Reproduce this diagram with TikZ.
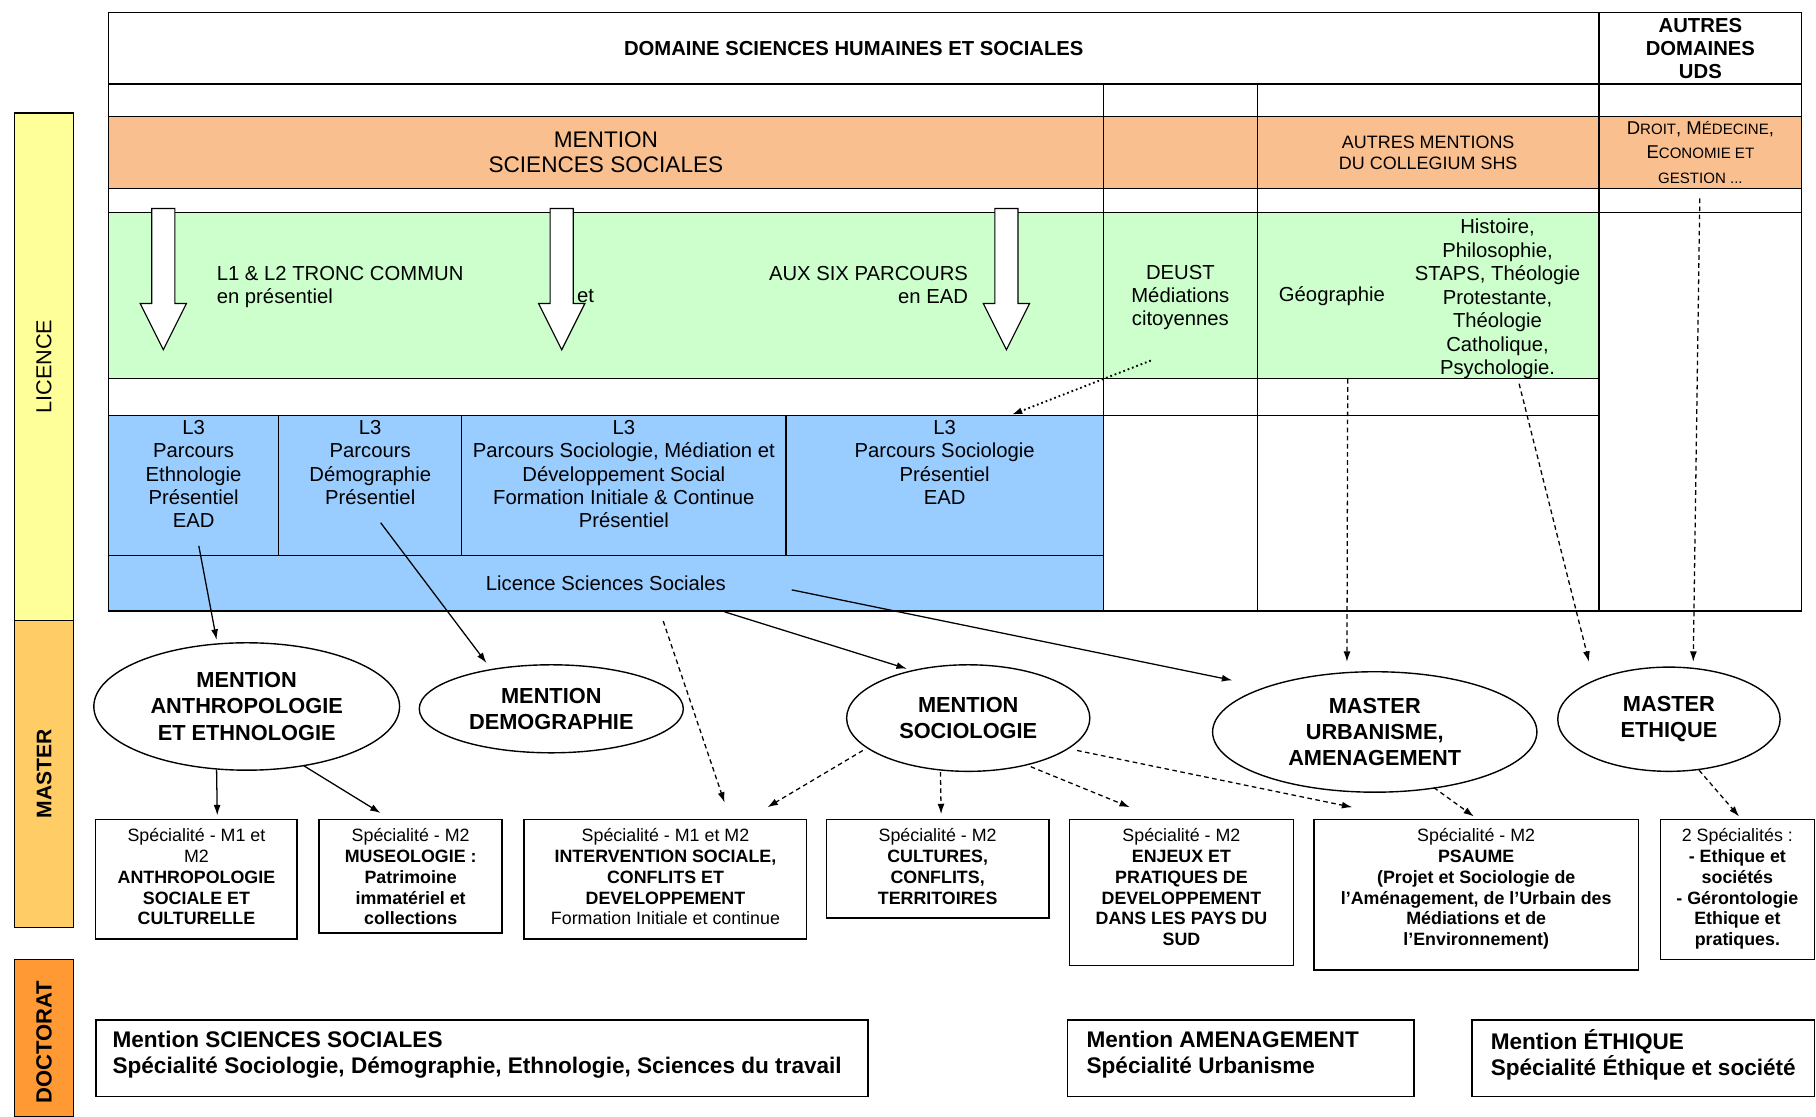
\documentclass[tikz,border=0pt]{standalone}
\usepackage{fontspec}
\setmainfont{Liberation Sans}
\usetikzlibrary{shapes.geometric,arrows.meta}
\newcommand\myfs[2]{\fontsize{#1}{#2}\selectfont}
\newcommand\scs[1]{{\fontsize{13}{21.5}\selectfont #1}}
\definecolor{licY}{RGB}{255,255,153}
\definecolor{masO}{RGB}{255,204,102}
\definecolor{docO}{RGB}{255,153,51}
\definecolor{peach}{RGB}{250,191,143}
\definecolor{lgreen}{RGB}{204,255,204}
\definecolor{lblue}{RGB}{153,204,255}
\begin{document}
\begin{tikzpicture}[x=1pt,y=-1pt,
 cell/.style={draw, line width=1.3pt, inner sep=0pt, anchor=north west, align=center, font=\myfs{17.5}{20}},
 txt/.style={inner sep=0pt, align=center, font=\myfs{17.5}{20}},
 ell/.style={ellipse, draw, line width=1.2pt, inner sep=0pt, align=center, fill=white, font=\myfs{18.8}{22.5}\bfseries},
 specbox/.style={draw, line width=1.2pt, inner sep=0pt, anchor=north west},
 spectxt/.style={inner sep=0pt, align=center, anchor=north, font=\myfs{15.4}{18}},
 docbox/.style={draw, line width=1.4pt, inner sep=0pt, anchor=north west},
 doctxt/.style={inner sep=0pt, align=left, anchor=west, font=\myfs{19.5}{22}\bfseries},
 side/.style={draw, line width=1pt, inner sep=0pt, anchor=north west, minimum width=51pt},
 sarr/.style={-{Latex[length=9pt,width=6pt]}, line width=1.1pt},
 darr/.style={sarr, dash pattern=on 4pt off 3pt},
 dotarr/.style={-{Latex[length=9pt,width=6pt]}, line width=1.6pt, dash pattern=on 1.5pt off 2.5pt},
 pics/barrow/.style={code={\draw[line width=1pt, fill=white] (-10,0) -- (10,0) -- (10,82) -- (20,82) -- (0,122) -- (-20,82) -- (-10,82) -- cycle;}}
]
\fill[white] (0,0) rectangle (1568,964);
\useasboundingbox (0,0) rectangle (1568,964);

% side bars
\node[side, fill=licY, minimum height=438pt] (lic) at (12,97) {};
\node[rotate=90, font=\myfs{18.7}{20}, inner sep=0pt] (licT) at (lic.center) {LICENCE};
\node[side, fill=masO, minimum height=265pt] (mas) at (12,535) {};
\node[rotate=90, font=\myfs{18.2}{20}\bfseries, inner sep=0pt] (masT) at (mas.center) {MASTER};
\node[side, fill=docO, minimum height=136pt] (doc) at (12,828) {};
\node[rotate=90, font=\myfs{19}{20}\bfseries, inner sep=0pt] (docT) at (38,900) {DOCTORAT};

% row A
\node[cell, minimum width=1287pt, minimum height=62pt] (domaine) at (93,10) {\bfseries DOMAINE SCIENCES HUMAINES ET SOCIALES};
\node[cell, minimum width=175pt, minimum height=62pt, font=\myfs{17.5}{20}\bfseries] (autresdom) at (1380,10) {AUTRES\\DOMAINES\\UDS};
% row B
\node[cell, minimum width=859pt, minimum height=28pt] (rowb1) at (93,72) {};
\node[cell, minimum width=133pt, minimum height=28pt] (rowb2) at (952,72) {};
\node[cell, minimum width=295pt, minimum height=28pt] (rowb3) at (1085,72) {};
\node[cell, minimum width=175pt, minimum height=28pt] (rowb4) at (1380,72) {};
% row C
\node[cell, fill=peach, minimum width=859pt, minimum height=62pt, font=\myfs{19.5}{22}] (mention) at (93,100) {MENTION\\SCIENCES SOCIALES};
\node[cell, fill=peach, minimum width=133pt, minimum height=62pt] (orblank) at (952,100) {};
\node[cell, fill=peach, minimum width=295pt, minimum height=62pt, font=\myfs{15.5}{18}] (autresment) at (1085,100) {AUTRES MENTIONS\\DU COLLEGIUM SHS};
\node[cell, fill=peach, minimum width=175pt, minimum height=62pt, font=\myfs{16}{21.5}] (droit) at (1380,100) {D\scs{ROIT}, M\scs{ÉDECINE},\\E\scs{CONOMIE ET}\\\scs{GESTION ...}};
% row D
\node[cell, minimum width=859pt, minimum height=21pt] (rowd1) at (93,162) {};
\node[cell, minimum width=133pt, minimum height=21pt] (rowd2) at (952,162) {};
\node[cell, minimum width=295pt, minimum height=21pt] (rowd3) at (1085,162) {};
\node[cell, minimum width=175pt, minimum height=21pt] (rowd4) at (1380,162) {};
% row E
\node[cell, fill=lgreen, minimum width=859pt, minimum height=143pt] (tronc) at (93,183) {};
\node[cell, fill=lgreen, minimum width=133pt, minimum height=143pt, text depth=-2pt] (deust) at (952,183) {DEUST\\Médiations\\citoyennes};
\node[cell, fill=lgreen, minimum width=295pt, minimum height=143pt] (greenothers) at (1085,183) {};
\node[cell, minimum width=175pt, minimum height=344pt] (rightcol) at (1380,183) {};
% row F
\node[cell, minimum width=859pt, minimum height=32pt] (rowf1) at (93,326) {};
\node[cell, minimum width=133pt, minimum height=32pt] (rowf2) at (952,326) {};
\node[cell, minimum width=295pt, minimum height=32pt] (rowf3) at (1085,326) {};
% row G
\node[cell, fill=lblue, minimum width=147pt, minimum height=121pt] (l3eth) at (93,358) {};
\node[cell, fill=lblue, minimum width=158pt, minimum height=121pt] (l3demo) at (240,358) {};
\node[cell, fill=lblue, minimum width=280pt, minimum height=121pt] (l3smd) at (398,358) {};
\node[cell, fill=lblue, minimum width=274pt, minimum height=121pt] (l3soc) at (678,358) {};
\node[cell, minimum width=133pt, minimum height=169pt] (emptyg2) at (952,358) {};
\node[cell, minimum width=295pt, minimum height=169pt] (emptyg3) at (1085,358) {};
% row H
\node[cell, fill=lblue, minimum width=859pt, minimum height=48pt] (licence) at (93,479) {Licence Sciences Sociales};

% texts in green row
\pic at (141,180) {barrow};
\pic at (485,180) {barrow};
\pic at (869,180) {barrow};
\node[txt, anchor=west, align=left] (troncL) at (187,248) {L1 \& L2 TRONC COMMUN\\en présentiel};
\node[txt, anchor=west] (et) at (498,256) {et};
\node[txt, anchor=east, align=right] (six) at (836,246) {AUX SIX PARCOURS\\en EAD};
\node[txt] (geo) at (1150,256) {Géographie};
\node[txt, font=\myfs{17.5}{20.3}] (hist) at (1293,258) {Histoire,\\Philosophie,\\STAPS, Théologie\\Protestante,\\Théologie\\Catholique,\\Psychologie.};

% L3 texts
\node[txt, anchor=north] (l3ethT) at ([yshift=-5pt]l3eth.north) {L3\\Parcours\\Ethnologie\\Présentiel\\EAD};
\node[txt, anchor=north] (l3demoT) at ([yshift=-5pt]l3demo.north) {L3\\Parcours\\Démographie\\Présentiel};
\node[txt, anchor=north] (l3smdT) at ([yshift=-5pt]l3smd.north) {L3\\Parcours Sociologie, Médiation et\\Développement Social\\Formation Initiale \& Continue\\Présentiel};
\node[txt, anchor=north] (l3socT) at ([yshift=-5pt]l3soc.north) {L3\\Parcours Sociologie\\Présentiel\\EAD};

% ellipses
\node[ell, minimum width=264pt, minimum height=110pt] (anthro) at (213,610) {MENTION\\ANTHROPOLOGIE\\ET ETHNOLOGIE};
\node[ell, minimum width=228pt, minimum height=76pt] (demog) at (476,612) {MENTION\\DEMOGRAPHIE};
\node[ell, minimum width=210pt, minimum height=92pt] (socio) at (836,620) {MENTION\\SOCIOLOGIE};
\node[ell, minimum width=280pt, minimum height=104pt] (urba) at (1187,632) {MASTER\\URBANISME,\\AMENAGEMENT};
\node[ell, minimum width=192pt, minimum height=90pt] (ethique) at (1441,621) {MASTER\\ETHIQUE};

% specialite boxes
\node[specbox, minimum width=174pt, minimum height=103pt] (b1) at (82,707) {};
\node[spectxt] (b1T) at ([yshift=-8pt]b1.north) {Spécialité - M1 et\\M2\\\textbf{ANTHROPOLOGIE}\\\textbf{SOCIALE ET}\\\textbf{CULTURELLE}};
\node[specbox, minimum width=158pt, minimum height=98pt] (b2) at (275,707) {};
\node[spectxt] (b2T) at ([yshift=-8pt]b2.north) {Spécialité - M2\\\textbf{MUSEOLOGIE :}\\\textbf{Patrimoine}\\\textbf{immatériel et}\\\textbf{collections}};
\node[specbox, minimum width=244pt, minimum height=103pt] (b3) at (452,707) {};
\node[spectxt] (b3T) at ([yshift=-8pt]b3.north) {Spécialité - M1 et M2\\\textbf{INTERVENTION SOCIALE,}\\\textbf{CONFLITS ET}\\\textbf{DEVELOPPEMENT}\\Formation Initiale et continue};
\node[specbox, minimum width=192pt, minimum height=85pt] (b4) at (713,707) {};
\node[spectxt] (b4T) at ([yshift=-8pt]b4.north) {Spécialité - M2\\\textbf{CULTURES,}\\\textbf{CONFLITS,}\\\textbf{TERRITOIRES}};
\node[specbox, minimum width=193pt, minimum height=126pt] (b5) at (923,707) {};
\node[spectxt] (b5T) at ([yshift=-8pt]b5.north) {Spécialité - M2\\\textbf{ENJEUX ET}\\\textbf{PRATIQUES DE}\\\textbf{DEVELOPPEMENT}\\\textbf{DANS LES PAYS DU}\\\textbf{SUD}};
\node[specbox, minimum width=280pt, minimum height=130pt] (b6) at (1134,707) {};
\node[spectxt] (b6T) at ([yshift=-8pt]b6.north) {Spécialité - M2\\\textbf{PSAUME}\\\textbf{(Projet et Sociologie de}\\\textbf{l’Aménagement, de l’Urbain des}\\\textbf{Médiations et de}\\\textbf{l’Environnement)}};
\node[specbox, minimum width=133pt, minimum height=121pt] (b7) at (1433,707) {};
\node[spectxt] (b7T) at ([yshift=-8pt]b7.north) {2 Spécialités :\\\textbf{- Ethique et}\\\textbf{sociétés}\\\textbf{- Gérontologie}\\\textbf{Ethique et}\\\textbf{pratiques.}};

% doctorat boxes
\node[docbox, minimum width=667pt, minimum height=66pt] (d1) at (82,880) {};
\node[doctxt] (d1T) at ([xshift=15pt,yshift=3pt]d1.west) {Mention SCIENCES SOCIALES\\Spécialité Sociologie, Démographie, Ethnologie, Sciences du travail};
\node[docbox, minimum width=299pt, minimum height=66pt] (d2) at (921,880) {};
\node[doctxt] (d2T) at ([xshift=17pt,yshift=3pt]d2.west) {Mention AMENAGEMENT\\Spécialité Urbanisme};
\node[docbox, minimum width=296pt, minimum height=66pt] (d3) at (1270,880) {};
\node[doctxt] (d3T) at ([xshift=17pt,yshift=3pt]d3.west) {Mention ÉTHIQUE\\Spécialité Éthique et société};

% connectors
\draw[sarr] ([xshift=4.5pt,yshift=9pt]l3eth.south) -- ([xshift=-26pt,yshift=2pt]anthro.north);
\draw[sarr] ([xshift=9pt,yshift=29pt]l3demo.south) -- ([xshift=-56pt,yshift=1pt]demog.north);
\draw[sarr] ([xshift=102.5pt]licence.south) -- ([xshift=-53pt,yshift=-4pt]socio.north);
\draw[sarr] ([xshift=160.5pt,yshift=19pt]licence.south) -- ([xshift=-123pt,yshift=-8pt]urba.north);
\draw[darr] ([xshift=49.5pt,yshift=-8pt]licence.south) -- ([xshift=51pt,yshift=14pt]b3.north);
\draw[darr] ([xshift=-91pt,yshift=-28pt]socio.center) -- ([xshift=88pt,yshift=10pt]b3.north);
\draw[darr] ([xshift=-24pt]socio.south) -- ([xshift=3pt,yshift=4pt]b4.north);
\draw[darr] ([xshift=54pt,yshift=-42pt]socio.center) -- ([xshift=-44.5pt,yshift=10pt]b5.north);
\draw[darr] ([xshift=94pt,yshift=-28pt]socio.center) -- ([xshift=-107pt,yshift=10pt]b6.north);
\draw[darr] ([xshift=51pt,yshift=-48pt]urba.center) -- ([xshift=-2pt,yshift=2pt]b6.north);
\draw[darr] ([xshift=26pt,yshift=-44pt]ethique.center) -- ([xshift=1.5pt,yshift=2pt]b7.north);
\draw[sarr] ([xshift=-26pt,yshift=1pt]anthro.south) -- ([xshift=18pt,yshift=3pt]b1.north);
\draw[sarr] ([xshift=49pt,yshift=-51pt]anthro.center) -- ([xshift=-26pt,yshift=5pt]b2.north);
\draw[darr] ([xshift=-69.5pt]greenothers.south) -- ([xshift=-24pt,yshift=8pt]urba.north);
\draw[darr] ([xshift=78.5pt,yshift=-4pt]greenothers.south) -- ([xshift=-69pt,yshift=4pt]ethique.north);
\draw[darr] ([xshift=-0.5pt,yshift=-8pt]droit.south) -- ([xshift=21pt,yshift=4pt]ethique.north);
\draw[dotarr] ([xshift=-25.5pt,yshift=16pt]deust.south) -- ([xshift=58pt]l3soc.north);
\end{tikzpicture}
\end{document}
